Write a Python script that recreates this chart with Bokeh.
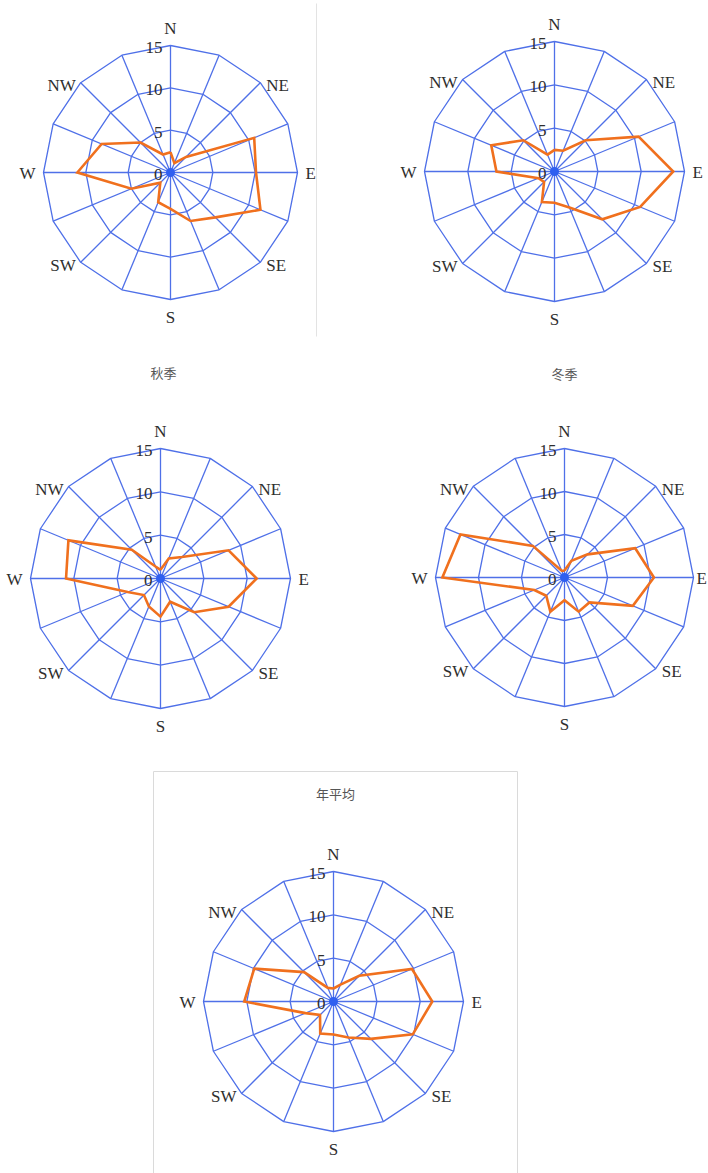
import math
from bokeh.plotting import figure
from bokeh.models import Range1d
from bokeh.core.properties import value
from bokeh.embed import file_html
from bokeh.resources import INLINE

# ---- data ----
directions = ["N", "NNE", "NE", "ENE", "E", "ESE", "SE", "SSE",
              "S", "SSW", "SW", "WSW", "W", "WNW", "NW", "NNW"]
label_dirs = ["N", "NE", "E", "SE", "S", "SW", "W", "NW"]
radial_ticks = [0, 5, 10, 15]
titles = ["", "", "秋季", "冬季", "年平均"]

spring = [2.4, 1.2, 2.6, 10.7, 10.1, 11.5, 7.5, 6.2, 4.3, 3.8, 1.7, 5.0, 11.0, 8.8, 5.0, 2.3]
summer = [2.5, 2.6, 5.1, 10.5, 13.7, 10.7, 7.8, 4.5, 3.6, 3.8, 1.7, 2.0, 6.7, 7.9, 5.1, 2.1]
autumn = [1.0, 2.5, 3.5, 8.5, 11.1, 8.5, 5.5, 2.9, 4.4, 3.5, 2.7, 4.1, 10.9, 11.5, 4.7, 1.5]
winter = [0.8, 2.1, 3.8, 8.9, 10.4, 8.6, 4.1, 4.3, 2.65, 4.3, 3.0, 3.8, 14.2, 13.1, 5.2, 0.85]
annual = [1.5, 2.1, 4.2, 9.8, 11.4, 9.9, 6.1, 4.5, 3.8, 4.0, 2.2, 3.5, 10.3, 9.9, 4.8, 1.7]
series = [spring, summer, autumn, winter, annual]

# ---- layout (page pixels) ----
W, H = 708, 1173
centers = [(170, 172), (554, 171), (160, 578), (564, 577), (333, 1001)]
radii = [127, 130, 130, 129, 130]
title_pos = [None, None, (163, 372), (564, 373), (335, 793)]
RMAX = 15.0

GRID = "#4f70e8"
ORANGE = "#f0701e"
TXT = "#2e2e2e"
SERIF = value("Liberation Serif")

p = figure(width=W, height=H, output_backend="svg", toolbar_location=None,
           x_range=Range1d(0, W), y_range=Range1d(H, 0), min_border=0)
p.axis.visible = False
p.grid.visible = False
p.outline_line_color = None

n = len(directions)
angles = [2 * math.pi * i / n for i in range(n)]


def pt(cx, cy, k, r, a):
    return cx + r * k * math.sin(a), cy - r * k * math.cos(a)


# frames
p.line([316, 316], [3, 336], line_color="#e3e3e3", line_width=1)
bx0, by0, bx1, by1 = 153, 771, 517, H + 5
p.line([bx0, bx0, bx1, bx1], [by1, by0, by0, by1], line_color="#dadada", line_width=1)

for idx, vals in enumerate(series):
    cx, cy = centers[idx]
    R = radii[idx]
    k = R / RMAX
    # rings
    xs, ys = [], []
    for t in radial_ticks[1:]:
        ring = [pt(cx, cy, k, t, a) for a in angles] + [pt(cx, cy, k, t, angles[0])]
        xs.append([q[0] for q in ring])
        ys.append([q[1] for q in ring])
    for a in angles:
        e = pt(cx, cy, k, RMAX, a)
        xs.append([cx, e[0]])
        ys.append([cy, e[1]])
    p.multi_line(xs, ys, line_color=GRID, line_width=1.3)
    p.scatter([cx], [cy], size=9, fill_color="#2f5ff0", line_color=None)

    # data polygon
    poly = [pt(cx, cy, k, v, a) for v, a in zip(vals, angles)]
    poly.append(poly[0])
    p.line([q[0] for q in poly], [q[1] for q in poly], line_color=ORANGE,
           line_width=2.6, line_join="miter")

    # radial tick labels
    p.text(x=[cx - 8] * len(radial_ticks),
           y=[cy - t * k + 2 for t in radial_ticks],
           text=[str(t) for t in radial_ticks],
           text_font=SERIF, text_font_size="17px", text_color=TXT,
           text_align="right", text_baseline="middle")

    # direction labels
    for d in label_dirs:
        a = angles[directions.index(d)]
        vx, vy = pt(cx, cy, k, RMAX, a)
        if d == "N":
            x, y, al, bl = vx, vy - 8, "center", "bottom"
        elif d == "S":
            x, y, al, bl = vx, vy + 8, "center", "top"
        elif d == "E":
            x, y, al, bl = min(vx + 8, W - 12), vy + 1, "left", "middle"
        elif d == "W":
            x, y, al, bl = vx - 8, vy + 1, "right", "middle"
        elif d in ("NE", "SE"):
            x, y, al, bl = vx + 6, vy + 3, "left", "middle"
        else:
            x, y, al, bl = vx - 5, vy + 3, "right", "middle"
        p.text(x=[x], y=[y], text=[d], text_font=SERIF, text_font_size="17px",
               text_color=TXT, text_align=al, text_baseline=bl)

    if title_pos[idx] is not None:
        tx, ty = title_pos[idx]
        p.text(x=[tx], y=[ty], text=[titles[idx]],
               text_font=value("Noto Sans CJK SC"), text_font_size="13px",
               text_color="#555555", text_align="center", text_baseline="middle")

open("out.html", "w").write(file_html(p, INLINE))
